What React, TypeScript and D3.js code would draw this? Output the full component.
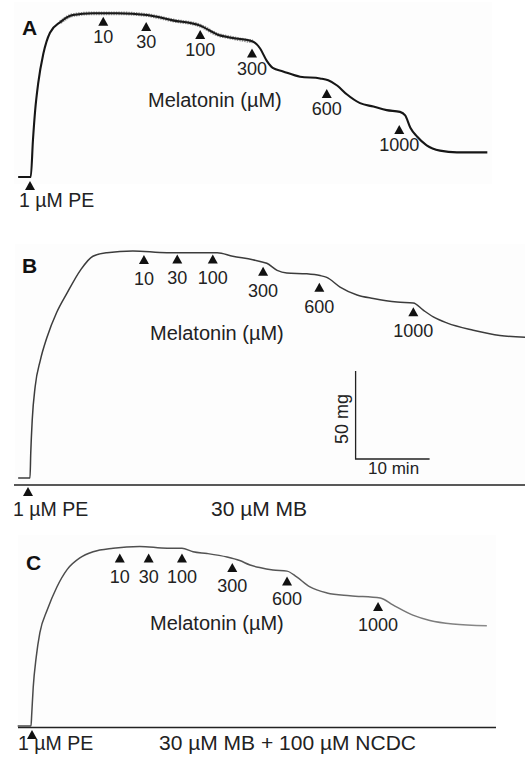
import React from "react";
import * as d3 from "d3";

// ---- Data (time in min after PE, tension in mg) ----
const traceA: [number, number][] = [
  [-1.6, 0], [0.1, 0], [0.4, 21], [0.7, 38], [1.1, 53], [1.8, 70], [2.7, 82], [4.1, 88],
  [5.8, 92], [8.5, 93], [11.8, 93], [15.8, 92], [19.3, 89], [23.0, 86], [25.3, 81],
  [27.4, 79], [30.1, 77], [31.1, 73], [32.0, 66], [32.8, 62], [34.2, 60], [36.5, 57],
  [39.2, 56], [40.3, 55], [41.5, 52], [42.8, 47], [44.6, 42], [46.4, 40], [48.2, 38],
  [50.0, 37], [50.7, 35], [51.4, 28], [52.3, 23], [53.6, 18], [55.4, 15], [57.7, 14],
  [59.9, 14], [61.8, 14],
];
const traceB: [number, number][] = [
  [-1.6, 0], [0, 0], [0.1, 14], [0.3, 33], [0.7, 52], [1.4, 67], [2.3, 80], [3.6, 94],
  [5.0, 105], [6.8, 118], [8.5, 126], [10.4, 128], [13.9, 129], [18.5, 128], [23.0, 128],
  [25.3, 128], [27.4, 126], [30.1, 124], [31.1, 123], [32.0, 122], [33.4, 118], [34.7, 116.5],
  [37.4, 116], [39.2, 115], [40.1, 114], [41.9, 108.5], [44.2, 104], [46.4, 102], [49.6, 100],
  [51.8, 99.5], [53.1, 95.5], [54.5, 91.5], [56.4, 88], [59.9, 84], [63.5, 81], [66.9, 80],
];
const traceC: [number, number][] = [
  [-1.8, 0], [0, 0], [0.1, 7], [0.3, 22], [0.7, 39], [1.2, 53], [2.2, 66], [3.5, 79],
  [4.9, 89], [6.6, 95.5], [8.4, 99], [11.1, 101], [14.7, 102], [18.4, 101], [20.4, 101],
  [21.9, 99], [23.8, 98], [26.5, 96], [28.2, 94], [29.6, 91.5], [30.9, 90], [32.7, 88.6],
  [34.6, 88], [35.9, 84.7], [37.7, 79], [40.0, 75.6], [43.1, 74], [47.2, 72.7], [48.9, 68.8],
  [51.6, 63], [53.9, 60], [57.0, 58], [61.6, 57],
];

const doses = ["10", "30", "100", "300", "600", "1000"];
const markerA_t = [9.9, 15.7, 23.0, 30.0, 40.1, 49.9];
const markerA_mg = [91, 88, 83.5, 73, 50, 29.5];
const markerB_t = [15.4, 19.9, 24.7, 31.5, 39.1, 51.8];
const markerB_mg = [126.7, 127, 127, 120, 111, 97];
const markerC_t = [12.0, 15.9, 20.4, 27.2, 34.6, 46.9];
const markerC_mg = [98, 98, 98, 92.6, 85, 70.5];

const panelLetters = ["A", "B", "C"];
const drugLabel = "Melatonin (\u00b5M)";
const peLabel = "1 \u00b5M PE";
const conditionLabels = ["", "30 \u00b5M MB", "30 \u00b5M MB + 100 \u00b5M NCDC"];
const scaleBarMin = 10;
const scaleBarMg = 50;
const scaleBarLabels = ["10 min", "50 mg"];

// ---- Layout ----
const PX_PER_MIN = 7.4;
const PX_PER_MG = 1.76;
const FONT = "'Liberation Sans', Arial, Helvetica, sans-serif";

type Panel = {
  trace: [number, number][];
  mt: number[];
  mm: number[];
  x0: number;
  baseY: number;
  letterPos: [number, number];
  melPos: [number, number];
  axis: [number, number, number] | null;
  peTip: number;
  peX: number;
  peTextPos: [number, number];
  condPos: [number, number];
  labelOffset: number;
  stroke: string;
  width: number;
  bg: [number, number, number, number];
};

const panels: Panel[] = [
  {
    trace: traceA, mt: markerA_t, mm: markerA_mg, x0: 30, baseY: 177,
    letterPos: [22, 35], melPos: [148, 107], axis: null, peTip: 181, peX: 30,
    peTextPos: [19, 207], condPos: [0, 0], labelOffset: 26, stroke: "#161616", width: 2.1,
    bg: [14, 2, 478, 182],
  },
  {
    trace: traceB, mt: markerB_t, mm: markerB_mg, x0: 30, baseY: 478,
    letterPos: [22, 273], melPos: [150, 340], axis: [14, 525, 485], peTip: 487, peX: 28,
    peTextPos: [13, 516], condPos: [211, 516], labelOffset: 30, stroke: "#3c3c3c", width: 1.5,
    bg: [15, 244, 510, 240],
  },
  {
    trace: traceC, mt: markerC_t, mm: markerC_mg, x0: 31, baseY: 726,
    letterPos: [26, 570], melPos: [150, 630], axis: [18, 496, 727.5], peTip: 730, peX: 32,
    peTextPos: [18, 750], condPos: [159, 750], labelOffset: 29, stroke: "url(#gradC)", width: 1.5,
    bg: [18, 535, 478, 192],
  },
];

function tri(x: number, tip: number) {
  return `M${x},${tip} L${x - 5},${tip + 9} L${x + 5},${tip + 9} Z`;
}

function PanelView({ p, i }: { p: Panel; i: number }) {
  const x = d3.scaleLinear().domain([0, 60]).range([p.x0, p.x0 + 60 * PX_PER_MIN]);
  const y = d3.scaleLinear().domain([0, 100]).range([p.baseY, p.baseY - 100 * PX_PER_MG]);
  const gen = d3
    .line<[number, number]>()
    .x((d) => x(d[0]))
    .y((d) => y(d[1]))
    .curve(d3.curveMonotoneX);
  const plateau = p.trace.filter((d) => d[0] >= 4 && d[0] <= 31);
  return (
    <g>
      <rect x={p.bg[0]} y={p.bg[1]} width={p.bg[2]} height={p.bg[3]} fill="#fdfdfd" />
      {p.axis && (
        <line x1={p.axis[0]} x2={p.axis[1]} y1={p.axis[2]} y2={p.axis[2]} stroke="#222" strokeWidth={1.6} />
      )}
      <path d={gen(p.trace) || ""} fill="none" stroke={p.stroke} strokeWidth={p.width} strokeLinejoin="round" />
      {i === 0 && (
        <path d={gen(plateau) || ""} fill="none" stroke="#222" strokeOpacity={0.5} strokeWidth={3.8} strokeDasharray="1.5 1" />
      )}
      <text x={p.letterPos[0]} y={p.letterPos[1]} fontFamily={FONT} fontWeight="bold" fontSize={21} fill="#111">
        {panelLetters[i]}
      </text>
      {doses.map((dname, k) => {
        const mx = x(p.mt[k]);
        const tip = y(p.mm[k]);
        return (
          <g key={dname}>
            <path d={tri(mx, tip)} fill="#111" />
            <text x={mx} y={tip + p.labelOffset} textAnchor="middle" fontFamily={FONT} fontSize={18} fill="#222">
              {dname}
            </text>
          </g>
        );
      })}
      <text x={p.melPos[0]} y={p.melPos[1]} fontFamily={FONT} fontSize={20} fill="#222">
        {drugLabel}
      </text>
      <path d={tri(p.peX, p.peTip)} fill="#111" />
      <text x={p.peTextPos[0]} y={p.peTextPos[1]} fontFamily={FONT} fontSize={19.5} fill="#222">
        {peLabel}
      </text>
      {conditionLabels[i] && (
        <text x={p.condPos[0]} y={p.condPos[1]} fontFamily={FONT} fontSize={21} fill="#222">
          {conditionLabels[i]}
        </text>
      )}
      {i === 1 && (() => {
        const t0 = 44;
        const m0 = 10.8;
        const sx0 = x(t0);
        const sx1 = x(t0 + scaleBarMin);
        const sy0 = y(m0);
        const sy1 = y(m0 + scaleBarMg);
        return (
          <g>
            <path d={`M${sx0},${sy1} L${sx0},${sy0} L${sx1},${sy0}`} fill="none" stroke="#222" strokeWidth={1.3} />
            <text x={(sx0 + sx1) / 2 + 1} y={sy0 + 15} textAnchor="middle" fontFamily={FONT} fontSize={17} fill="#222">
              {scaleBarLabels[0]}
            </text>
            <text
              transform={`translate(${sx0 - 8},${(sy0 + sy1) / 2 + 4}) rotate(-90)`}
              textAnchor="middle"
              fontFamily={FONT}
              fontSize={18}
              fill="#222"
            >
              {scaleBarLabels[1]}
            </text>
          </g>
        );
      })()}
    </g>
  );
}

export default function App() {
  return (
    <svg
      width={525}
      height={763}
      viewBox="0 0 525 763"
      style={{ position: "absolute", left: 0, top: 0, background: "#fff" }}
    >
      <defs>
        <linearGradient id="gradC" x1="0" x2="1" y1="0" y2="0">
          <stop offset="0%" stopColor="#4a4a4a" />
          <stop offset="55%" stopColor="#555" />
          <stop offset="100%" stopColor="#8a8a8a" />
        </linearGradient>
      </defs>
      <rect x={0} y={0} width={525} height={763} fill="#fff" />
      {panels.map((p, i) => (
        <PanelView key={i} p={p} i={i} />
      ))}
    </svg>
  );
}
